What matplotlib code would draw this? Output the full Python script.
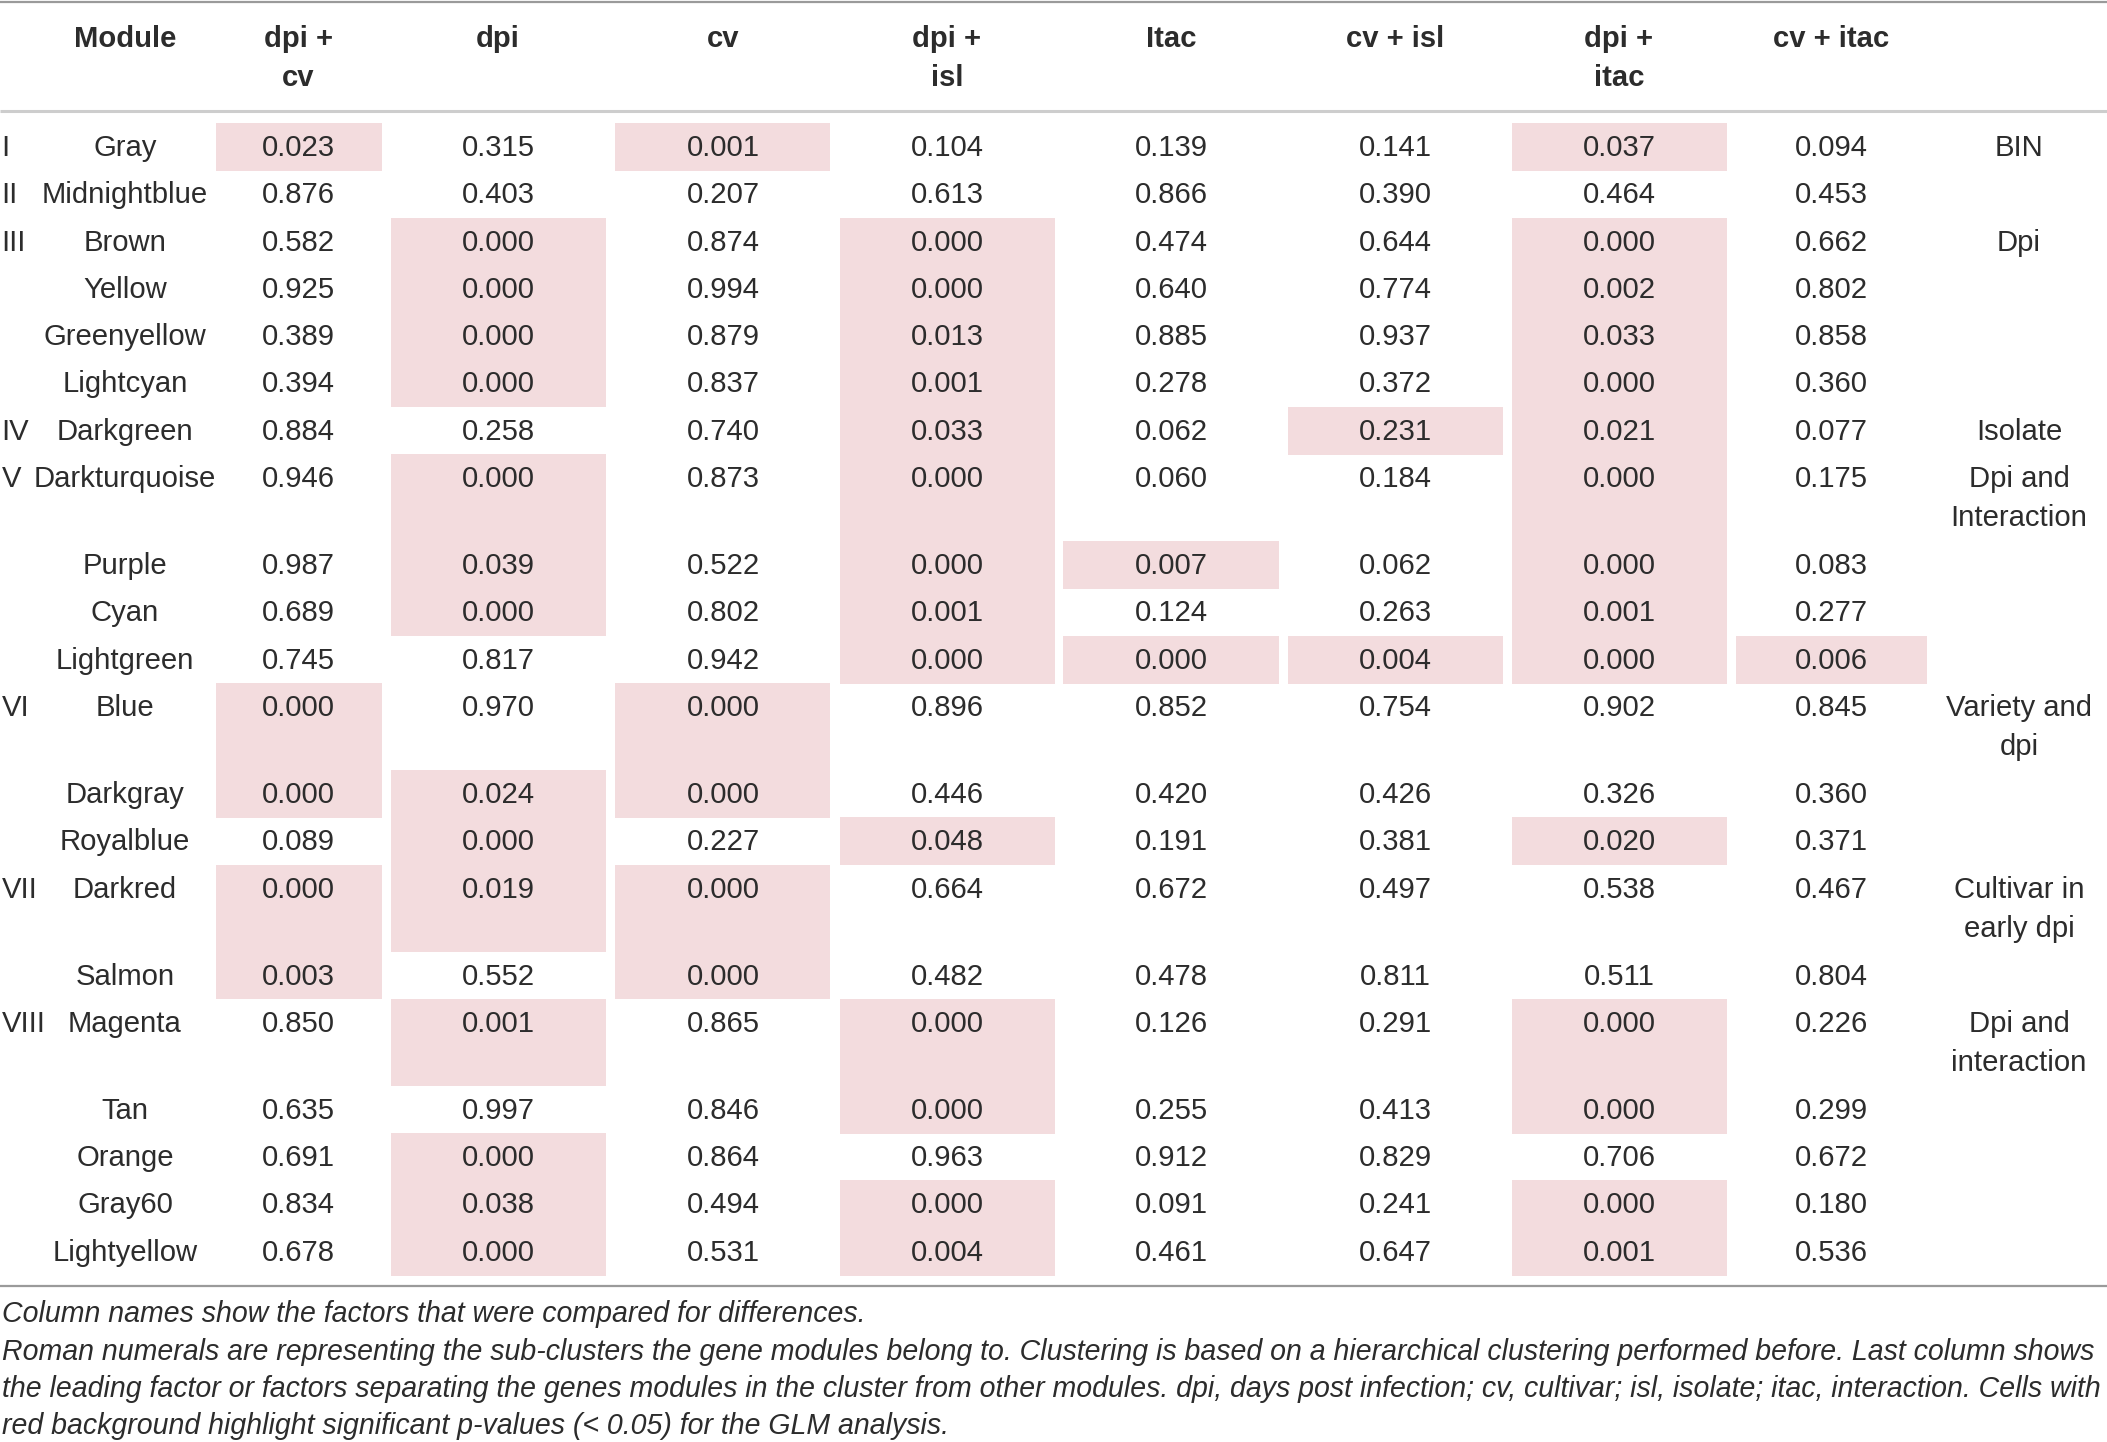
import matplotlib
matplotlib.use("Agg")
import matplotlib.pyplot as plt
from matplotlib.patches import Rectangle

# ---------------- data ----------------
header = ["Module", "dpi +\ncv", "dpi", "cv", "dpi +\nisl", "Itac", "cv + isl", "dpi +\nitac", "cv + itac"]
clusters = ["I", "II", "III", "", "", "", "IV", "V", "", "", "", "VI", "", "", "VII", "", "VIII", "", "", "", ""]
modules = ["Gray", "Midnightblue", "Brown", "Yellow", "Greenyellow", "Lightcyan", "Darkgreen",
           "Darkturquoise", "Purple", "Cyan", "Lightgreen", "Blue", "Darkgray", "Royalblue",
           "Darkred", "Salmon", "Magenta", "Tan", "Orange", "Gray60", "Lightyellow"]
dpi_cv = [0.023, 0.876, 0.582, 0.925, 0.389, 0.394, 0.884, 0.946, 0.987, 0.689, 0.745,
          0.000, 0.000, 0.089, 0.000, 0.003, 0.850, 0.635, 0.691, 0.834, 0.678]
dpi = [0.315, 0.403, 0.000, 0.000, 0.000, 0.000, 0.258, 0.000, 0.039, 0.000, 0.817,
       0.970, 0.024, 0.000, 0.019, 0.552, 0.001, 0.997, 0.000, 0.038, 0.000]
cv = [0.001, 0.207, 0.874, 0.994, 0.879, 0.837, 0.740, 0.873, 0.522, 0.802, 0.942,
      0.000, 0.000, 0.227, 0.000, 0.000, 0.865, 0.846, 0.864, 0.494, 0.531]
dpi_isl = [0.104, 0.613, 0.000, 0.000, 0.013, 0.001, 0.033, 0.000, 0.000, 0.001, 0.000,
           0.896, 0.446, 0.048, 0.664, 0.482, 0.000, 0.000, 0.963, 0.000, 0.004]
itac = [0.139, 0.866, 0.474, 0.640, 0.885, 0.278, 0.062, 0.060, 0.007, 0.124, 0.000,
        0.852, 0.420, 0.191, 0.672, 0.478, 0.126, 0.255, 0.912, 0.091, 0.461]
cv_isl = [0.141, 0.390, 0.644, 0.774, 0.937, 0.372, 0.231, 0.184, 0.062, 0.263, 0.004,
          0.754, 0.426, 0.381, 0.497, 0.811, 0.291, 0.413, 0.829, 0.241, 0.647]
dpi_itac = [0.037, 0.464, 0.000, 0.002, 0.033, 0.000, 0.021, 0.000, 0.000, 0.001, 0.000,
            0.902, 0.326, 0.020, 0.538, 0.511, 0.000, 0.000, 0.706, 0.000, 0.001]
cv_itac = [0.094, 0.453, 0.662, 0.802, 0.858, 0.360, 0.077, 0.175, 0.083, 0.277, 0.006,
           0.845, 0.360, 0.371, 0.467, 0.804, 0.226, 0.299, 0.672, 0.180, 0.536]
leading = ["BIN", "", "Dpi", "", "", "", "Isolate", "Dpi and\nInteraction", "", "", "",
           "Variety and\ndpi", "", "", "Cultivar in\nearly dpi", "", "Dpi and\ninteraction",
           "", "", "", ""]
# cells shaded in the source although p >= 0.05: (module, column index)
extra_shaded = [("Darkgreen", 5)]
alpha_level = 0.05
notes = [
    "Column names show the factors that were compared for differences.",
    "Roman numerals are representing the sub-clusters the gene modules belong to. Clustering is based on a hierarchical clustering performed before. Last column shows",
    "the leading factor or factors separating the genes modules in the cluster from other modules. dpi, days post infection; cv, cultivar; isl, isolate; itac, interaction. Cells with",
    "red background highlight significant p-values (< 0.05) for the GLM analysis.",
]

value_columns = [dpi_cv, dpi, cv, dpi_isl, itac, cv_isl, dpi_itac, cv_itac]

# ---------------- layout ----------------
W, H = 2107, 1442
FONT = ["Liberation Sans", "DejaVu Sans"]
TXT = "#2c2c2c"
SHADE = "#f3dcde"
FS = 21.1

fig = plt.figure(figsize=(W / 100, H / 100), dpi=100)
ax = fig.add_axes([0, 0, 1, 1])
ax.set_xlim(0, W)
ax.set_ylim(H, 0)
ax.axis("off")

col_centers = [298, 498, 723, 947, 1171, 1395, 1619, 1831]
col_spans = [(216, 382), (391, 606), (615, 830), (840, 1055), (1063, 1279),
             (1288, 1503), (1512, 1727), (1736, 1927)]
module_x = 125
cluster_x = 1.5
lead_x = 2019
line_gap = 39.3
base_off = 33.0
h_single = 47.3
h_double = 87.0
body_top = 123.0

# rules
ax.plot([0, W], [1.5, 1.5], color="#9a9a9a", lw=1.6, solid_capstyle="butt")
ax.plot([0, W], [110.5, 110.5], color="#cdcdcd", lw=2.2, solid_capstyle="butt")
ax.plot([0, W], [1286, 1286], color="#9a9a9a", lw=1.6, solid_capstyle="butt")


def put(x, y_base, s, ha="center", weight="normal"):
    for k, line in enumerate(s.split("\n")):
        ax.text(x, y_base + k * line_gap, line, ha=ha, va="baseline",
                fontsize=FS, family=FONT, color=TXT, fontweight=weight)


# header
put(module_x, 47, header[0], weight="bold")
for j, h in enumerate(header[1:]):
    put(col_centers[j], 47, h, weight="bold")

# rows
tops = []
y = body_top
for i in range(len(modules)):
    tops.append(y)
    y += h_double if "\n" in leading[i] else h_single

for i, m in enumerate(modules):
    top = tops[i]
    hgt = h_double if "\n" in leading[i] else h_single
    for j, col in enumerate(value_columns):
        v = col[i]
        if v < alpha_level or (m, j) in extra_shaded:
            x0, x1 = col_spans[j]
            ax.add_patch(Rectangle((x0, top), x1 - x0, hgt + 0.6, facecolor=SHADE,
                                   edgecolor="none", zorder=0))
        put(col_centers[j], top + base_off, f"{v:.3f}")
    put(module_x, top + base_off, m)
    if clusters[i]:
        put(cluster_x, top + base_off, clusters[i], ha="left")
    if leading[i]:
        put(lead_x, top + base_off, leading[i])

# footnotes, sized so the longest line spans the full width as in the source
fig.canvas.draw()
r = fig.canvas.get_renderer()
widest = 0
for s in notes:
    probe = ax.text(2, 1314, s, fontsize=20, family=FONT, style="italic")
    widest = max(widest, probe.get_window_extent(r).width)
    probe.remove()
fs_note = 20 * 2096 / widest
note_base = [1322, 1359.5, 1397, 1434.5]
for k, s in enumerate(notes):
    ax.text(2, note_base[k], s, ha="left", va="baseline", fontsize=fs_note,
            family=FONT, style="italic", color=TXT)

fig.savefig("out.png", dpi=100, facecolor="white")
